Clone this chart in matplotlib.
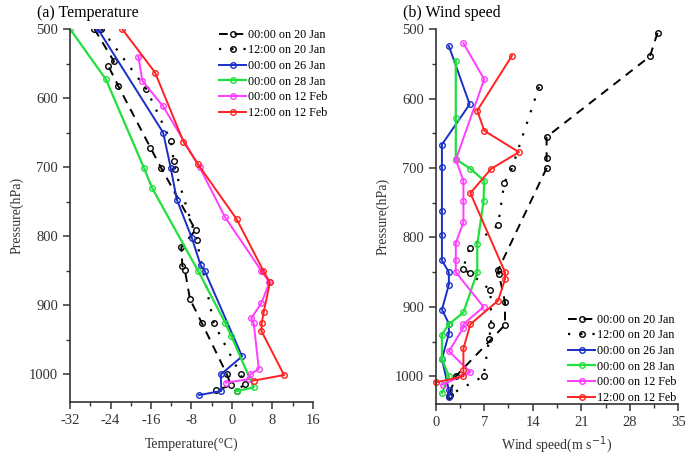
import numpy as np
import matplotlib
matplotlib.use("Agg")
import matplotlib.pyplot as plt
from matplotlib.ticker import MultipleLocator

plt.rcParams['font.family'] = ['Liberation Serif', 'DejaVu Serif']
plt.rcParams['axes.unicode_minus'] = False

labels = ['00:00 on 20 Jan', '12:00 on 20 Jan', '00:00 on 26 Jan',
          '00:00 on 28 Jan', '00:00 on 12 Feb', '12:00 on 12 Feb']

# (a) temperature profiles
t_0020 = [-27.2, -23.3, -24.4, -22.5, -16.1, -14.0, -7.2, -10.0, -9.8, -9.3, -8.3, -6.0, -1.0, -0.2, -3.2]
p_t_0020 = [500, 547, 554, 582, 672, 701, 791, 816, 843, 849, 891, 925, 1000, 1016, 1023]
t_1220 = [-25.8, -16.9, -12.1, -11.5, -11.3, -7.0, -3.6, 1.7, 2.5, 1.0]
p_t_1220 = [500, 587, 662, 691, 702, 805, 926, 1000, 1014, 1024]
t_0026 = [-26.5, -13.6, -12.1, -10.9, -7.9, -6.2, -5.4, 2.0, -2.2, -2.1, -6.5]
p_t_0026 = [500, 650, 701, 747, 803, 842, 850, 974, 1000, 1024, 1030]
t_0028 = [-32.0, -24.9, -17.4, -15.8, -6.7, -1.3, -0.1, 4.3, 1.0]
p_t_0028 = [500, 573, 701, 730, 850, 926, 945, 1019, 1024]
t_0012 = [-18.5, -17.7, -13.6, -6.4, -1.4, 5.8, 7.4, 5.8, 3.8, 4.3, 5.3, 3.6, 3.3, -1.2]
p_t_0012 = [540, 575, 612, 700, 772, 850, 867, 897, 919, 926, 992, 1000, 1007, 1012]
t_1212 = [-21.7, -15.2, -9.6, -6.7, 0.9, 6.2, 7.5, 6.3, 5.9, 5.8, 10.3, 4.3]
p_t_1212 = [500, 563, 663, 696, 775, 850, 867, 909, 925, 937, 1001, 1009]

# (b) wind speed profiles
w_0020 = [32.0, 30.9, 16.0, 16.0, 16.0, 9.0, 9.1, 10.0, 10.0, 2.9, 1.9]
p_w_0020 = [505, 539, 655, 685, 700, 847, 852, 893, 926, 1000, 1028]
w_1220 = [14.9, 11.0, 9.9, 9.0, 4.9, 3.9, 4.9, 7.9, 8.0, 7.7, 6.9, 2.0]
p_w_1220 = [583, 700, 721, 782, 815, 846, 851, 876, 926, 947, 1000, 1027]
w_0026 = [1.9, 4.9, 0.9, 0.9, 0.9, 0.9, 0.9, 1.9, 1.9, 0.9, 1.9, 1.9, 0.9, 1.9, 1.9]
p_w_0026 = [524, 608, 666, 699, 762, 797, 833, 850, 868, 904, 924, 939, 975, 1020, 1030]
w_0028 = [2.9, 2.9, 2.9, 5.0, 7.0, 6.9, 6.0, 6.0, 4.0, 1.9, 0.9, 0.9, 1.9, 0.9]
p_w_0028 = [545, 628, 687, 701, 718, 748, 810, 850, 908, 925, 940, 975, 1000, 1024]
w_0012 = [4.0, 7.0, 2.9, 4.0, 4.0, 4.0, 2.9, 2.9, 2.9, 6.9, 4.0, 4.0, 1.9, 5.0, 1.0]
p_w_0012 = [520, 572, 688, 718, 748, 778, 808, 833, 850, 900, 925, 930, 964, 994, 1012]
w_1212 = [11.0, 6.0, 7.0, 12.0, 8.0, 5.0, 10.0, 10.0, 9.0, 5.0, 4.0, 4.0, 4.0, 0.0]
p_w_1212 = [538, 617, 646, 677, 701, 736, 850, 860, 891, 925, 960, 991, 1000, 1009]

colors = ['black', 'black', '#1a2fc8', '#1fe03c', '#ff3cff', '#ff2020']
styles = [dict(dashes=(4.5, 3.5), lw=1.4), dict(dashes=(1, 4.5), lw=1.6),
          dict(ls='-', lw=1.4), dict(ls='-', lw=1.6),
          dict(ls='-', lw=1.4), dict(ls='-', lw=1.4)]

temp = [(t_0020, p_t_0020), (t_1220, p_t_1220), (t_0026, p_t_0026),
        (t_0028, p_t_0028), (t_0012, p_t_0012), (t_1212, p_t_1212)]
wind = [(w_0020, p_w_0020), (w_1220, p_w_1220), (w_0026, p_w_0026),
        (w_0028, p_w_0028), (w_0012, p_w_0012), (w_1212, p_w_1212)]

fig = plt.figure(figsize=(6.94, 4.58), dpi=100)
ax1 = fig.add_axes([0.1009, 0.1223, 0.350, 0.8144])
ax2 = fig.add_axes([0.6278, 0.1179, 0.3496, 0.818])


def style_axis(ax):
    ax.set_ylim(1040, 500)
    ax.yaxis.set_major_locator(MultipleLocator(100))
    ax.yaxis.set_minor_locator(MultipleLocator(50))
    for s in ['top', 'right']:
        ax.spines[s].set_visible(False)
    for s in ['left', 'bottom']:
        ax.spines[s].set_linewidth(1.2)
        ax.spines[s].set_color('#333333')
    ax.tick_params(which='major', length=5, width=1.1, labelsize=10.5, colors='#333333')
    ax.tick_params(which='minor', length=3, width=1.0, colors='#333333')
    ax.set_ylabel('Pressure(hPa)', fontsize=10, color='#333333')


leg_kw = dict(frameon=False, fontsize=8.7, handlelength=2.2, handletextpad=0.2,
              labelspacing=0.3, borderpad=0, borderaxespad=0,
              bbox_transform=fig.transFigure, loc='upper left')

for (x, p), c, st, lab in zip(temp, colors, styles, labels):
    ax1.plot(x, p, color=c, marker='o', ms=4, mfc='none', mew=1.0,
             label=lab, **st)
style_axis(ax1)
ax1.set_xlim(-32, 16)
ax1.xaxis.set_major_locator(MultipleLocator(8))
ax1.xaxis.set_minor_locator(MultipleLocator(4))
ax1.set_xlabel('Temperature(°C)', fontsize=10, color='#333333', labelpad=8)
ax1.set_title('(a) Temperature', loc='left', fontsize=11.5, x=-0.136, y=1.01)
ax1.legend(bbox_to_anchor=(0.316, 0.937), **leg_kw)

for (x, p), c, st, lab in zip(wind, colors, styles, labels):
    ax2.plot(x, p, color=c, marker='o', ms=4, mfc='none', mew=1.0,
             label=lab, clip_on=False, **st)
style_axis(ax2)
ax2.set_xlim(0, 35)
ax2.xaxis.set_major_locator(MultipleLocator(7))
ax2.xaxis.set_minor_locator(MultipleLocator(3.5))
ax2.set_xlabel('Wind speed(m s$^{-1}$)', fontsize=10, color='#333333', labelpad=4)
ax2.set_title('(b) Wind speed', loc='left', fontsize=11.5, x=-0.135, y=1.01)
ax2.legend(bbox_to_anchor=(0.819, 0.315), **leg_kw)

fig.savefig('out.png', dpi=100)
